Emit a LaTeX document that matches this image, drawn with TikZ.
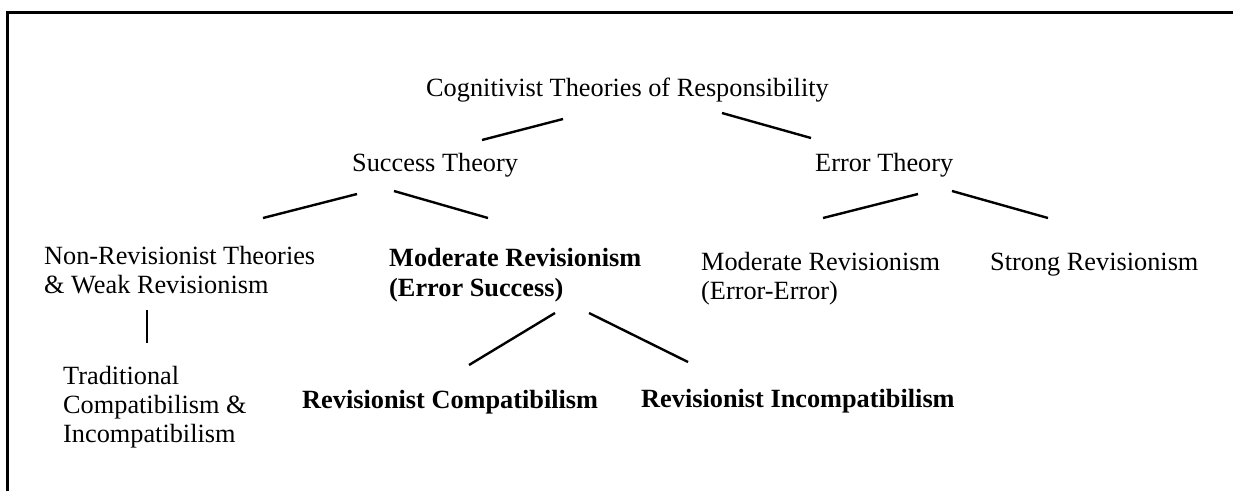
\documentclass[tikz,border=0pt]{standalone}
\usepackage{fontspec}
\setmainfont{Liberation Serif}
\usepackage{tikz}

\tikzset{
	lbl/.style={anchor=base west, inner sep=0pt, align=left, font=\fontsize{26.3}{29}\selectfont},
	blbl/.style={lbl, font=\fontsize{26.3}{30}\selectfont\bfseries},
	branch/.style={line width=2.4pt},
	frame/.style={line width=2.6pt}
}

\begin{document}
\begin{tikzpicture}[x=1pt, y=-1pt]
			%%%%% START %%%%%
			\useasboundingbox (0, 0) rectangle (1233, 491);
			\draw[frame] (7.5, 491) -- (7.5, 12.5) -- (1233, 12.5);
			
			% level 0
			\node[lbl] (cog) at (426, 96) {Cognitivist Theories of Responsibility};
			
			% level 1
			\node[lbl] (success) at (352, 171) {Success Theory};
			\node[lbl] (error) at (815, 171) {Error Theory};
			
			% level 2 (base = last line)
			\node[lbl] (nonrev) at (44, 293) {Non-Revisionist Theories\\\& Weak Revisionism};
			\node[blbl] (modsucc) at (389, 296) {Moderate Revisionism\\(Error Success)};
			\node[lbl] (moderr) at (701, 299) {Moderate Revisionism\\(Error-Error)};
			\node[lbl] (strong) at (990, 270) {Strong Revisionism};
			
			% level 3
			\node[lbl] (trad) at (63, 442) {Traditional\\Compatibilism \&\\Incompatibilism};
			\node[blbl] (revcomp) at (302, 408) {Revisionist Compatibilism};
			\node[blbl] (revincomp) at (641, 407) {Revisionist Incompatibilism};
			
			% line ends
			\coordinate (cog-l) at (563, 119);
			\coordinate (cog-r) at (722, 113);
			\coordinate (success-t) at (482, 140);
			\coordinate (error-t) at (811, 138);
			\coordinate (success-l) at (357, 194);
			\coordinate (success-r) at (394, 191);
			\coordinate (error-l) at (918, 194);
			\coordinate (error-r) at (952, 191);
			\coordinate (nonrev-t) at (263, 218);
			\coordinate (modsucc-t) at (488, 218);
			\coordinate (moderr-t) at (823, 218);
			\coordinate (strong-t) at (1048, 218);
			\coordinate (nonrev-b) at (147, 310);
			\coordinate (trad-t) at (147, 343);
			\coordinate (modsucc-l) at (555, 313);
			\coordinate (modsucc-r) at (589, 313);
			\coordinate (revcomp-t) at (469, 365);
			\coordinate (revincomp-t) at (688, 362);
			
			\draw[branch] (cog-l) -- (success-t);
			\draw[branch] (cog-r) -- (error-t);
			\draw[branch] (success-l) -- (nonrev-t);
			\draw[branch] (success-r) -- (modsucc-t);
			\draw[branch] (error-l) -- (moderr-t);
			\draw[branch] (error-r) -- (strong-t);
			\draw[branch] (nonrev-b) -- (trad-t);
			\draw[branch] (modsucc-l) -- (revcomp-t);
			\draw[branch] (modsucc-r) -- (revincomp-t);
			%%%%% END %%%%%
\end{tikzpicture}
\end{document}
